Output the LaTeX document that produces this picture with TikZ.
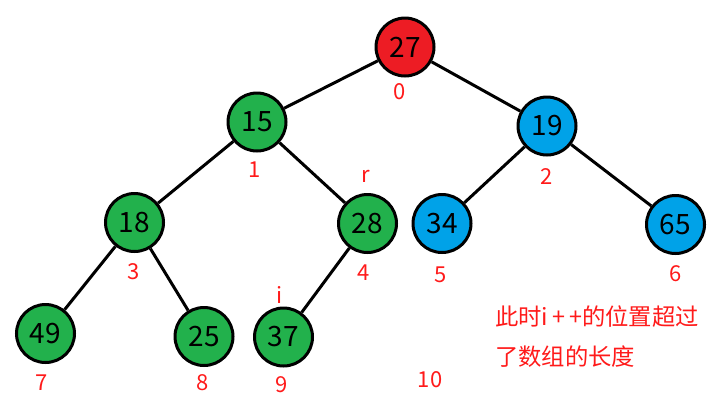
\documentclass[tikz,border=0pt]{standalone}
\usepackage{fontspec}
\setmainfont{Noto Sans CJK SC}
\definecolor{rootred}{HTML}{ED1C24}
\definecolor{heapgreen}{HTML}{22B14C}
\definecolor{heapblue}{HTML}{00A2E8}
\definecolor{idxred}{HTML}{FF1A1A}
\tikzset{
    heapnode/.style={circle,draw=black,line width=2.25pt,minimum size=43.5pt,inner sep=0pt,font=\fontsize{21}{23}\selectfont},
    idx/.style={text=idxred,font=\fontsize{16.5}{18}\selectfont,inner sep=0pt},
    note/.style={text=idxred,font=\fontsize{17.5}{20}\selectfont,inner sep=0pt,anchor=west}
}
\begin{document}
\begin{tikzpicture}[x=0.75pt,y=-0.75pt]
                    \useasboundingbox (0,0) rectangle (713,411);

                    \node[heapnode,fill=rootred] (n0) at (405,47) {27};
                    \node[heapnode,fill=heapgreen] (n1) at (257,122) {15};
                    \node[heapnode,fill=heapblue] (n2) at (547,126) {19};
                    \node[heapnode,fill=heapgreen] (n3) at (134.5,222.5) {18};
                    \node[heapnode,fill=heapgreen] (n4) at (367.5,223.5) {28};
                    \node[heapnode,fill=heapblue] (n5) at (442,223.5) {34};
                    \node[heapnode,fill=heapblue] (n6) at (675.5,224.5) {65};
                    \node[heapnode,fill=heapgreen] (n7) at (45.5,333.5) {49};
                    \node[heapnode,fill=heapgreen] (n8) at (204,336.5) {25};
                    \node[heapnode,fill=heapgreen] (n9) at (283.5,337) {37};

                    \draw[line width=2.25pt] (n0) -- (n1);
                    \draw[line width=2.25pt] (n0) -- (n2);
                    \draw[line width=2.25pt] (n1) -- (n3);
                    \draw[line width=2.25pt] (n1) -- (n4);
                    \draw[line width=2.25pt] (n2) -- (n5);
                    \draw[line width=2.25pt] (n2) -- (n6);
                    \draw[line width=2.25pt] (n3) -- (n7);
                    \draw[line width=2.25pt] (n3) -- (n8);
                    \draw[line width=2.25pt] (n4) -- (n9);

                    \node[idx] (i0) at (400,92) {0};
                    \node[idx] (i1) at (255,170) {1};
                    \node[idx] (i2) at (547,177) {2};
                    \node[idx] (i3) at (134,272) {3};
                    \node[idx] (i4) at (364,273) {4};
                    \node[idx] (i5) at (441,275) {5};
                    \node[idx] (i6) at (676,274) {6};
                    \node[idx] (i7) at (42,383) {7};
                    \node[idx] (i8) at (203,383) {8};
                    \node[idx] (i9) at (282,385) {9};
                    \node[idx] (i10) at (430,380) {10};
                    \node[idx] (pr) at (366,176) {r};
                    \node[idx] (pi) at (280,295) {i};

                    \node[note] (note1) at (495,317) {此时i\,+\,+的位置超过};
                    \node[note] (note2) at (495,357) {了数组的长度};

                  \end{tikzpicture}
\end{document}
